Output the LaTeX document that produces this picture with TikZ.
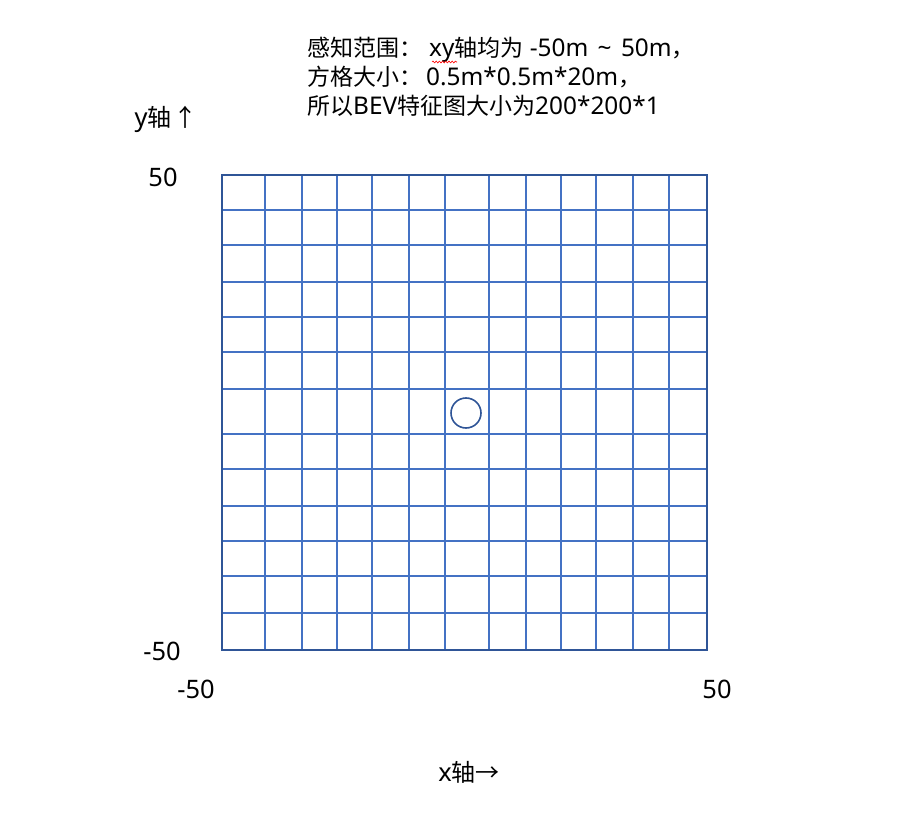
\documentclass[tikz,border=0pt]{standalone}
\usepackage{fontspec}
\setmainfont{Noto Sans}[Scale=1.06]
\newfontfamily\cjk{Noto Sans CJK SC}
\usetikzlibrary{decorations.pathmorphing}
\definecolor{gridblue}{HTML}{4472C4}
\definecolor{darkblue}{HTML}{2F5597}
\begin{document}
\begin{tikzpicture}[x=1pt,y=-1pt,
  note/.style={anchor=base west,inner sep=0pt,font=\fontsize{23}{29}\selectfont},
  lab/.style={anchor=base,inner sep=0pt,font=\fontsize{24}{30}\selectfont},
  gridline/.style={draw=gridblue,line width=1.4pt},
  border/.style={draw=darkblue,line width=2.5pt},
  marker/.style={circle,draw=darkblue,line width=1.6pt,minimum size=30pt,inner sep=0pt}]
\useasboundingbox (0,0) rectangle (916,829);
% notes
\node[note] (t1) at (307,57) {{\cjk 感知范围：}\hspace{7pt}xy{\cjk 轴均为} -50m\hspace{3pt} \textasciitilde{}\hspace{3pt} 50m{\cjk ，}};
\node[note] (t2) at (307,86) {{\cjk 方格大小：}\hspace{4pt}0.5m*0.5m*20m{\cjk ，}};
\node[note] (t3) at (307,115) {{\cjk 所以}BEV{\cjk 特征图大小为}200*200*1};
\draw[red,line width=0.6pt,decorate,decoration={snake,amplitude=0.9pt,segment length=3.2pt}] (432,62) -- (457,62);
% grid
\foreach \x in {265,302,337,372,409,445,489,526,561,596,633,669}
  \draw[gridline] (\x,175) -- (\x,650);
\foreach \y in {210,245,282,317,352,389,434,469,506,541,576,613}
  \draw[gridline] (222,\y) -- (707,\y);
\draw[border] (222,175) rectangle (707,650);
\node[marker] (ego) at (466,413) {};
% labels
\node[lab] (yax) at (166,127) {y{\cjk 轴}\hspace{2pt}{\cjk ↑}};
\node[lab] (ytop) at (163,187) {50};
\node[lab] (ybot) at (162,660) {-50};
\node[lab] (xleft) at (196,698) {-50};
\node[lab] (xright) at (717,698) {50};
\node[lab] (xax) at (469,781) {x{\cjk 轴→}};
\end{tikzpicture}
\end{document}
